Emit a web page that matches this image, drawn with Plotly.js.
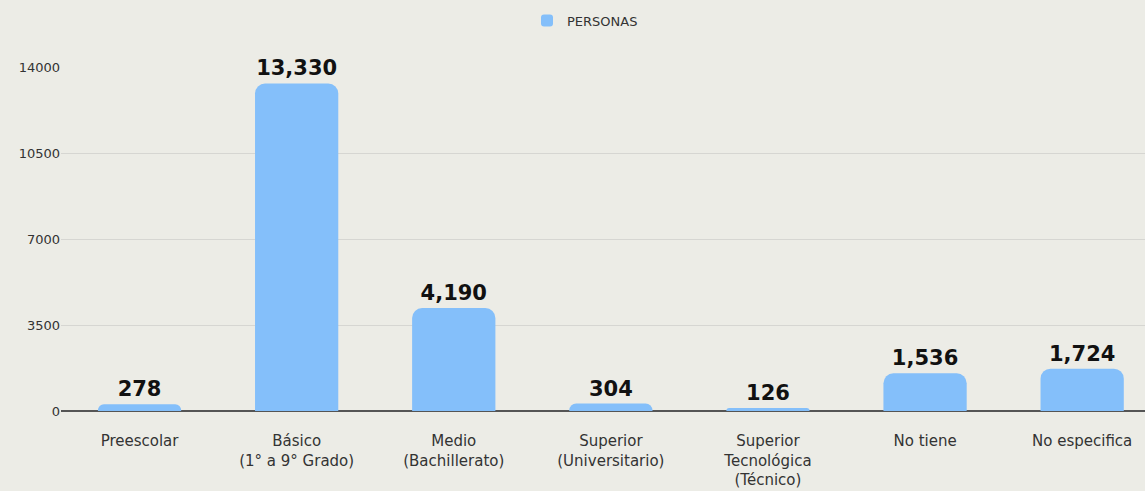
<!DOCTYPE html>
<html>
<head>
<meta charset="utf-8">
<script src="https://cdn.plot.ly/plotly-3.0.1.min.js"></script>
<style>html,body{margin:0;padding:0;background:#ecece6;}#chart{width:1145px;height:491px;}</style>
</head>
<body>
<div id="chart"></div>
<script>
const categories = ["Preescolar", "Básico<br>(1° a 9° Grado)", "Medio<br>(Bachillerato)", "Superior<br>(Universitario)", "Superior<br>Tecnológica<br>(Técnico)", "No tiene", "No especifica"];
const personas = [278, 13330, 4190, 304, 126, 1536, 1724];
const yTicks = [0, 3500, 7000, 10500, 14000];

const trace = {
  type: "bar",
  name: "PERSONAS",
  x: categories,
  y: personas,
  width: 0.53,
  marker: {color: "#84bffa", cornerradius: 10},
  text: personas.map(v => v.toLocaleString("en-US")),
  textposition: "outside",
  cliponaxis: false,
  textfont: {family: "DejaVu Sans, sans-serif", size: 21, color: "#111", weight: 700},
  hoverinfo: "x+y"
};

const layout = {
  width: 1145, height: 491,
  paper_bgcolor: "#ecece6", plot_bgcolor: "#ecece6",
  margin: {l: 61, r: 0, t: 67, b: 80, autoexpand: false},
  showlegend: true,
  legend: {orientation: "h", x: 0.4834, xanchor: "center", y: 1.135, yanchor: "middle",
    font: {family: "DejaVu Sans, sans-serif", size: 13, color: "#333"}},
  xaxis: {type: "category", range: [-0.5, 6.4], tickfont: {family: "DejaVu Sans, sans-serif", size: 15, color: "#333"},
    showgrid: false, showline: false, ticks: "", ticklabelstandoff: 19, fixedrange: true},
  yaxis: {range: [0, 14000], tickvals: yTicks, ticktext: yTicks.map(String), showgrid: true,
    gridcolor: "#d6d6d2", gridwidth: 1, zeroline: true, zerolinecolor: "#555", zerolinewidth: 2,
    tickfont: {family: "DejaVu Sans, sans-serif", size: 13, color: "#333"}, ticks: "", ticklen: 0, fixedrange: true},
  bargap: 0.47,
  font: {family: "DejaVu Sans, sans-serif"}
};

Plotly.newPlot("chart", [trace], layout, {displayModeBar: false, staticPlot: true});
</script>
</body>
</html>
